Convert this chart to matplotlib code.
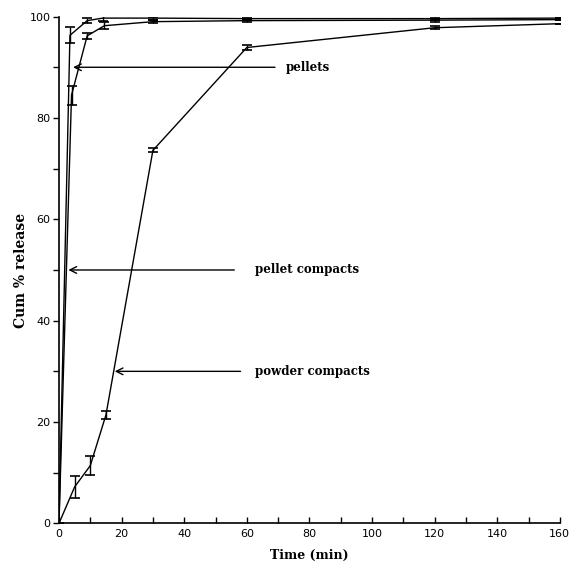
import matplotlib.pyplot as plt
import numpy as np

# ===== Release data (time in min, cumulative % released) =====
t_powder = [0, 5, 10, 15, 30, 60, 120, 160]
y_powder = [0, 7.2, 11.4, 21.4, 73.6, 93.9, 97.8, 98.6]
e_powder = [0, 2.1, 1.8, 0.8, 0.4, 0.4, 0.3, 0]

t_pellets = [0, 4, 9, 14.5, 30, 60, 120, 160]
y_pellets = [0, 84.5, 96.2, 98.2, 99.0, 99.2, 99.3, 99.4]
e_pellets = [0, 1.9, 0.6, 0.7, 0.3, 0.3, 0.3, 0]

t_compacts = [0, 3.5, 9, 14, 30, 60, 120, 160]
y_compacts = [0, 96.3, 99.2, 99.7, 99.7, 99.6, 99.6, 99.7]
e_compacts = [0, 1.6, 0.5, 0.5, 0.3, 0.3, 0.3, 0]

# annotation arrows: label, y level, arrow tip x, tail x, text x
notes = [("pellets", 90, 4.5, 69, 72.5),
         ("pellet compacts", 50, 3.0, 56, 62.5),
         ("powder compacts", 30, 17.8, 58, 62.5)]

label_font = 'DejaVu Serif'

fig = plt.figure(figsize=(5.75, 5.72), dpi=100)
ax = fig.add_axes([0.1026, 0.085, 0.871, 0.886])

for t, y, e in [(t_powder, y_powder, e_powder),
                (t_pellets, y_pellets, e_pellets),
                (t_compacts, y_compacts, e_compacts)]:
    ax.errorbar(t, y, yerr=e, color='black', linewidth=1.0,
                elinewidth=1.0, capsize=3.5, capthick=1.2)

for text, yv, tip, tail, tx in notes:
    ax.annotate("", xy=(tip, yv), xytext=(tail, yv),
                arrowprops=dict(arrowstyle='->', color='black', lw=1.0,
                                shrinkA=0, shrinkB=0, mutation_scale=12))
    ax.text(tx, yv, text, fontsize=8.5, fontweight='bold',
            fontname=label_font, va='center', ha='left')

ax.set_xlim(0, 160)
ax.set_ylim(0, 100)
ax.set_xticks(np.arange(0, 161, 20))
ax.set_xticks(np.arange(0, 161, 10), minor=True)
ax.set_yticks(np.arange(0, 101, 20))
ax.set_yticks(np.arange(0, 101, 10), minor=True)

ax.tick_params(axis='x', which='both', direction='in', length=4, width=1,
               labelsize=8, pad=4)
ax.tick_params(axis='y', which='both', direction='out', length=4, width=1,
               labelsize=8, pad=2)

ax.spines['top'].set_visible(False)
ax.spines['right'].set_visible(False)
for spine in ['left', 'bottom']:
    ax.spines[spine].set_linewidth(1.2)

ax.set_xlabel("Time (min)", fontsize=9, fontweight='bold',
              fontname=label_font, labelpad=7)
ax.set_ylabel("Cum % release", fontsize=10, fontweight='bold',
              fontname=label_font, labelpad=1)

fig.savefig("out.png", dpi=100)
